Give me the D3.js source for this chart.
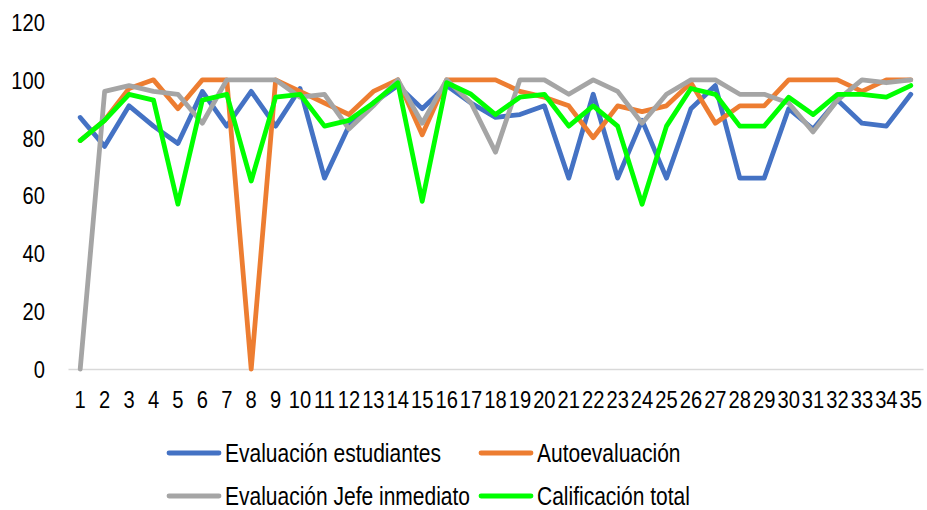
<!DOCTYPE html>
<html>
<head>
<meta charset="utf-8">
<script src="https://cdn.jsdelivr.net/npm/d3@7"></script>
<style>
  html, body { margin: 0; padding: 0; background: #fff; }
  svg { display: block; }
  text { font-family: "Liberation Sans", Arial, sans-serif; fill: #000; }
</style>
</head>
<body>
<svg id="chart" width="927" height="510"></svg>
<script>
const categories = d3.range(1, 36).map(String);
const yTicks = [0, 20, 40, 60, 80, 100, 120];
const seriesNames = ["Evaluación estudiantes", "Autoevaluación", "Evaluación Jefe inmediato", "Calificación total"];
const seriesColors = ["#4472C4", "#ED7D31", "#A5A5A5", "#00FF00"];
const estudiantes = [87, 77, 91, 84, 78, 96, 84, 96, 84, 97, 66, 84, 92, 98, 90, 98, 92, 87, 88, 91, 66, 95, 66, 86, 66, 90, 98, 66, 66, 90, 83, 93, 85, 84, 95];
const autoevaluacion = [79, 86, 97, 100, 90, 100, 100, 0, 100, 96, 92, 88, 96, 100, 81, 100, 100, 100, 96, 94, 91, 80, 91, 89, 91, 99, 85, 91, 91, 100, 100, 100, 96, 100, 100];
const jefe = [0, 96, 98, 96, 95, 85, 100, 100, 100, 94, 95, 83, 91, 100, 85, 100, 92, 75, 100, 100, 95, 100, 96, 85, 95, 100, 100, 95, 95, 92, 82, 93, 100, 99, 100];
const total = [79, 86, 95, 93, 57, 93, 95, 65, 94, 95, 84, 86, 92, 99, 58, 99, 95, 88, 94, 95, 84, 91, 84, 57, 84, 97, 95, 84, 84, 94, 88, 95, 95, 94, 98];
const seriesValues = [estudiantes, autoevaluacion, jefe, total];

const SX = 0.84; // horizontal condensation to mimic a narrow typeface

const svg = d3.select("#chart");
const x = d3.scaleBand().domain(categories).range([68, 923]);
const y = d3.scaleLinear().domain([0, 120]).range([369, 22]);

// y axis labels
const yAxis = d3.axisLeft(y).tickValues(yTicks).tickSize(0).tickPadding(0);
const gy = svg.append("g").attr("transform", "translate(45,0)").call(yAxis);
gy.select(".domain").remove();
gy.selectAll("text").style("font-size", "24px").attr("fill", "#000")
  .attr("font-family", null).attr("x", 0).attr("dy", "0.35em")
  .attr("transform", "scale(" + SX + ",1)");

// x axis
const xAxis = d3.axisBottom(x).tickSize(0).tickPadding(0);
const gx = svg.append("g").attr("transform", "translate(0," + y(0) + ")").call(xAxis);
gx.select(".domain").attr("stroke", "#d9d9d9").attr("stroke-width", 1.3);
gx.selectAll("text").style("font-size", "24px").attr("fill", "#000")
  .attr("font-family", null).attr("y", 31).attr("dy", "0.35em")
  .attr("transform", "scale(" + SX + ",1)");

// lines
const line = d3.line().x((d, i) => x(categories[i]) + x.bandwidth() / 2).y(d => y(d));
seriesValues.forEach((vals, k) => {
  svg.append("path").datum(vals)
    .attr("d", line)
    .attr("fill", "none")
    .attr("stroke", seriesColors[k])
    .attr("stroke-width", 4.8)
    .attr("stroke-linejoin", "round")
    .attr("stroke-linecap", "round");
});

// legend
const legendPos = [[167, 453], [479, 453], [167, 496], [479, 496]];
seriesNames.forEach((name, k) => {
  const [lx, ly] = legendPos[k];
  const g = svg.append("g").attr("transform", "translate(" + lx + "," + ly + ")");
  g.append("line").attr("x1", 2).attr("x2", 52).attr("y1", 0).attr("y2", 0)
    .attr("stroke", seriesColors[k]).attr("stroke-width", 4.8).attr("stroke-linecap", "round");
  g.append("text").attr("x", 58 / SX).attr("y", 0).attr("dy", "0.35em")
    .attr("transform", "scale(" + SX + ",1)")
    .style("font-size", "25px").text(name);
});
</script>
</body>
</html>
